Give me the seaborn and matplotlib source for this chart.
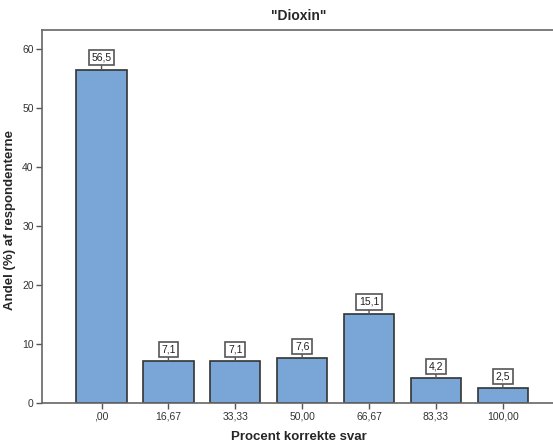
import matplotlib
matplotlib.use('Agg')
from matplotlib import pyplot as plt
import seaborn as sns
import pandas as pd

# Data
categories = [',00', '16,67', '33,33', '50,00', '66,67', '83,33', '100,00']
shares = [56.5, 7.1, 7.1, 7.6, 15.1, 4.2, 2.5]
value_labels = ['56,5', '7,1', '7,1', '7,6', '15,1', '4,2', '2,5']
y_ticks = [0, 10, 20, 30, 40, 50, 60]

df = pd.DataFrame({'Procent': categories, 'Andel': shares})

sns.set_style('white')
plt.rcParams['font.family'] = ['Liberation Sans', 'DejaVu Sans']

fig = plt.figure(figsize=(5.53, 4.48), dpi=100)
fig.patch.set_facecolor('white')
ax = fig.add_axes([0.076, 0.1004, 0.93, 0.8326])

sns.barplot(x='Procent', y='Andel', data=df, color='#79a6d6', saturation=1,
            edgecolor='#333333', linewidth=1.2, width=0.75, ax=ax)

# value labels in small boxes above each bar
for i, (v, lab) in enumerate(zip(shares, value_labels)):
    ax.annotate(lab, xy=(i, v), xytext=(0, 5), textcoords='offset points',
                ha='center', va='bottom', fontsize=7.5, color='#222222',
                bbox=dict(boxstyle='square,pad=0.25', fc='white', ec='#555555', lw=1.2),
                arrowprops=dict(arrowstyle='-', color='#555555', lw=1, shrinkA=0, shrinkB=0))

ax.set_xlim(-0.89, 6.8)
ax.set_ylim(0, 63.2)
ax.set_yticks(y_ticks)
ax.tick_params(axis='both', which='both', direction='out', length=4, width=1,
               color='#555555', labelsize=7.5, labelcolor='#333333', bottom=True, left=True, pad=2)

for side in ['top', 'left', 'bottom', 'right']:
    ax.spines[side].set_color('#666666')
    ax.spines[side].set_linewidth(1.2)

ax.set_title('"Dioxin"', fontsize=10, fontweight='bold', pad=7)
ax.set_xlabel('Procent korrekte svar', fontsize=9.5, fontweight='bold', labelpad=7)
ax.set_ylabel('Andel (%) af respondenterne', fontsize=9.5, fontweight='bold')
ax.yaxis.set_label_coords(-0.062, 0.49)
ax.yaxis.label.set_va('center')

fig.savefig('out.png', dpi=100, facecolor='white')
